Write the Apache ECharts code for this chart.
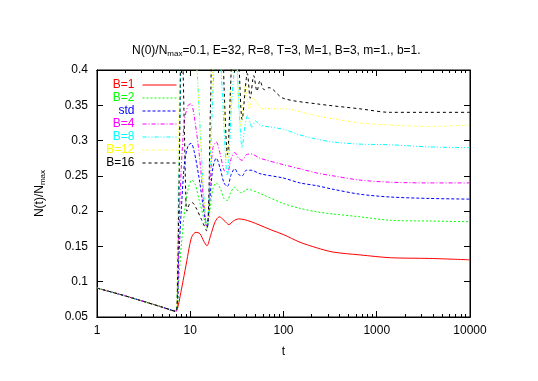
<!DOCTYPE html>
<html>
<head>
<meta charset="utf-8">
<script src="https://cdn.jsdelivr.net/npm/echarts@6/dist/echarts.min.js"></script>
<style>
html, body { margin: 0; padding: 0; background: #fff; }
#chart { width: 538px; height: 381px; }
</style>
</head>
<body>
<div id="chart"></div>
<script>
// [t, N(t)/Nmax]
const head = [[1, 0.091], [2, 0.08], [3, 0.073], [5, 0.064], [7, 0.058]];

const b1 = [[7.4, 0.065], [7.8, 0.08], [8.4, 0.102], [9.2, 0.13], [9.9, 0.153], [10.5, 0.165], [11.5, 0.17], [12.7, 0.168], [14, 0.157], [15.1, 0.151], [16.5, 0.165], [18.5, 0.185], [20.5, 0.192], [23, 0.187], [26, 0.181], [29, 0.186], [33, 0.189], [38, 0.188], [45, 0.185], [56, 0.18], [75, 0.173], [99, 0.167], [150, 0.156], [228, 0.148], [340, 0.142], [660, 0.138], [1400, 0.134], [3700, 0.133], [10000, 0.131]];

const b2 = [[7.5, 0.1], [8, 0.15], [8.7, 0.2], [9.5, 0.232], [10.4, 0.244], [11.3, 0.238], [12.5, 0.215], [14, 0.19], [15.1, 0.177], [16.2, 0.2], [17.5, 0.232], [19, 0.24], [21, 0.232], [23, 0.218], [25, 0.215], [27, 0.226], [30, 0.234], [33, 0.228], [36, 0.226], [40, 0.231], [45, 0.23], [56, 0.225], [99, 0.211], [150, 0.204], [228, 0.199], [340, 0.196], [660, 0.192], [1400, 0.187], [3700, 0.186], [10000, 0.185]];

const std = [[7.5, 0.13], [8, 0.2], [8.7, 0.27], [9.5, 0.293], [10.2, 0.296], [11, 0.285], [12.5, 0.245], [14, 0.2], [15.1, 0.177], [16.3, 0.22], [17.5, 0.262], [19, 0.275], [21, 0.26], [23, 0.24], [25, 0.235], [27.5, 0.252], [30, 0.26], [33, 0.252], [36, 0.25], [40, 0.258], [45, 0.258], [56, 0.253], [99, 0.247], [150, 0.24], [228, 0.236], [340, 0.231], [660, 0.224], [1400, 0.22], [3700, 0.218], [10000, 0.217]];

const b4 = [[7.5, 0.16], [8, 0.26], [8.7, 0.33], [9.5, 0.35], [10.2, 0.352], [11, 0.335], [12.5, 0.28], [14, 0.21], [15.1, 0.177], [16.3, 0.24], [17.5, 0.29], [19, 0.298], [21, 0.28], [23, 0.258], [25, 0.255], [27.5, 0.275], [30, 0.283], [33, 0.275], [36, 0.272], [40, 0.28], [45, 0.281], [56, 0.275], [99, 0.266], [150, 0.26], [228, 0.254], [340, 0.25], [660, 0.244], [1400, 0.241], [3700, 0.24], [10000, 0.24]];

const b8 = [[7.4, 0.2], [7.8, 0.35], [8.3, 0.45], [10, 0.47], [11.5, 0.42], [12.5, 0.34], [14, 0.22], [15.1, 0.175], [16.5, 0.28], [18, 0.4], [20, 0.46], [22, 0.37], [25, 0.25], [28, 0.36], [31, 0.42], [33.5, 0.34], [36, 0.29], [38.5, 0.32], [41, 0.335], [44, 0.325], [46, 0.318], [50, 0.328], [56, 0.322], [99, 0.316], [150, 0.308], [228, 0.302], [340, 0.298], [660, 0.295], [1400, 0.294], [3700, 0.291], [10000, 0.29]];

const b12 = [[7.3, 0.2], [7.7, 0.4], [8.2, 0.5], [10, 0.5], [11.8, 0.4], [13.5, 0.25], [15.1, 0.175], [17, 0.35], [18.5, 0.5], [21.5, 0.5], [23, 0.35], [25, 0.27], [27.5, 0.38], [30, 0.45], [32.5, 0.38], [35, 0.32], [39, 0.38], [43, 0.345], [47, 0.36], [60, 0.345], [99, 0.345], [228, 0.335], [660, 0.325], [1400, 0.322], [3700, 0.32], [10000, 0.322]];

const b16 = [[7.3, 0.1], [7.7, 0.3], [8, 0.45], [8.3, 0.42], [8.7, 0.3], [9.2, 0.2], [9.8, 0.21], [10.5, 0.212], [11.5, 0.205], [13, 0.19], [15, 0.172], [16.5, 0.35], [18, 0.5], [21.5, 0.5], [23, 0.38], [25, 0.28], [28, 0.42], [31, 0.48], [33.5, 0.4], [36, 0.33], [41, 0.395], [44, 0.36], [48, 0.392], [52, 0.37], [56, 0.385], [62, 0.372], [70, 0.375], [99, 0.36], [228, 0.352], [660, 0.345], [1400, 0.34], [3700, 0.34], [10000, 0.34]];

const names = ['B=1', 'B=2', 'std', 'B=4', 'B=8', 'B=12', 'B=16'];
const colors = ['#ff0000', '#00ff00', '#0000ff', '#ff00ff', '#00ffff', '#ffff00', '#000000'];
const dashes = ['solid', [2, 2], [3, 2], [4, 2, 1, 2], [4, 2, 1, 2, 1, 2], [1, 2], [3, 3]];
const curves = [b1, b2, std, b4, b8, b12, b16];

const xMinor = [2, 3, 4, 5, 6, 7, 8, 9, 20, 30, 40, 50, 60, 70, 80, 90, 200, 300, 400, 500, 600, 700, 800, 900, 2000, 3000, 4000, 5000, 6000, 7000, 8000, 9000];
const xMajor = [1, 10, 100, 1000, 10000];

const font = 'Liberation Sans';

function xAx(pos, ticks, len, labels) {
    return {
        type: 'log', logBase: 10, min: 1, max: 10000, position: pos,
        axisLine: { show: true, lineStyle: { color: '#000' } },
        axisTick: { show: true, inside: true, length: len, customValues: ticks, lineStyle: { color: '#000' } },
        axisLabel: { show: labels, color: '#000', fontFamily: font, fontSize: 12, margin: 8,
            formatter: v => String(v) },
        splitLine: { show: false },
        name: labels ? 't' : '',
        nameLocation: 'middle', nameGap: 29,
        nameTextStyle: { color: '#000', fontFamily: font, fontSize: 12 }
    };
}

function yAx(pos, labels) {
    return {
        type: 'value', min: 0.05, max: 0.4, interval: 0.05, position: pos,
        axisLine: { show: true, lineStyle: { color: '#000' } },
        axisTick: { show: true, inside: true, length: 6, lineStyle: { color: '#000' } },
        axisLabel: { show: labels, color: '#000', fontFamily: font, fontSize: 12, margin: 9,
            formatter: v => String(+v.toFixed(2)) },
        splitLine: { show: false },
        name: labels ? 'N(t)/N{s|max}' : '',
        nameLocation: 'middle', nameRotate: 90, nameGap: 50,
        nameTextStyle: { color: '#000', fontFamily: font, fontSize: 12,
            rich: { s: { fontSize: 8, fontFamily: font, color: '#000', verticalAlign: 'bottom', padding: [6, 0, 0, 0] } } }
    };
}

const chart = echarts.init(document.getElementById('chart'), null, { renderer: 'canvas' });

chart.setOption({
    animation: false,
    backgroundColor: '#fff',
    title: {
        text: 'N(0)/N{s|max}=0.1, E=32, R=8, T=3, M=1, B=3, m=1., b=1.',
        left: 127, top: 39,
        textStyle: { color: '#000', fontFamily: font, fontSize: 12, fontWeight: 'normal',
            rich: { s: { fontSize: 8, fontFamily: font, color: '#000', verticalAlign: 'bottom', padding: [6, 0, 0, 0] } } }
    },
    grid: { left: 97, right: 68, top: 70, bottom: 64, show: true, borderColor: '#000', borderWidth: 1 },
    legend: {
        orient: 'vertical', align: 'right', right: 356, top: 74,
        itemWidth: 34, itemHeight: 10, itemGap: 1,
        itemStyle: { color: 'rgba(0,0,0,0)', borderWidth: 0, opacity: 0 },
        lineStyle: { width: 1 },
        data: names.map((n, i) => ({ name: n, textStyle: { color: colors[i] } })),
        textStyle: { fontFamily: font, fontSize: 12, lineHeight: 12, padding: [0, 3, 0, 0] }
    },
    xAxis: [
        xAx('bottom', xMajor, 6, true),
        xAx('bottom', xMinor, 3, false),
        xAx('top', xMajor, 6, false),
        xAx('top', xMinor, 3, false)
    ],
    yAxis: [yAx('left', true), yAx('right', false)],
    series: curves.map((c, i) => ({
        name: names[i],
        type: 'line',
        xAxisIndex: 0, yAxisIndex: 0,
        data: head.concat(c),
        symbol: 'none',
        smooth: 0.3,
        clip: true,
        color: colors[i],
        lineStyle: { color: colors[i], width: 1, type: dashes[i] }
    }))
});
</script>
</body>
</html>
